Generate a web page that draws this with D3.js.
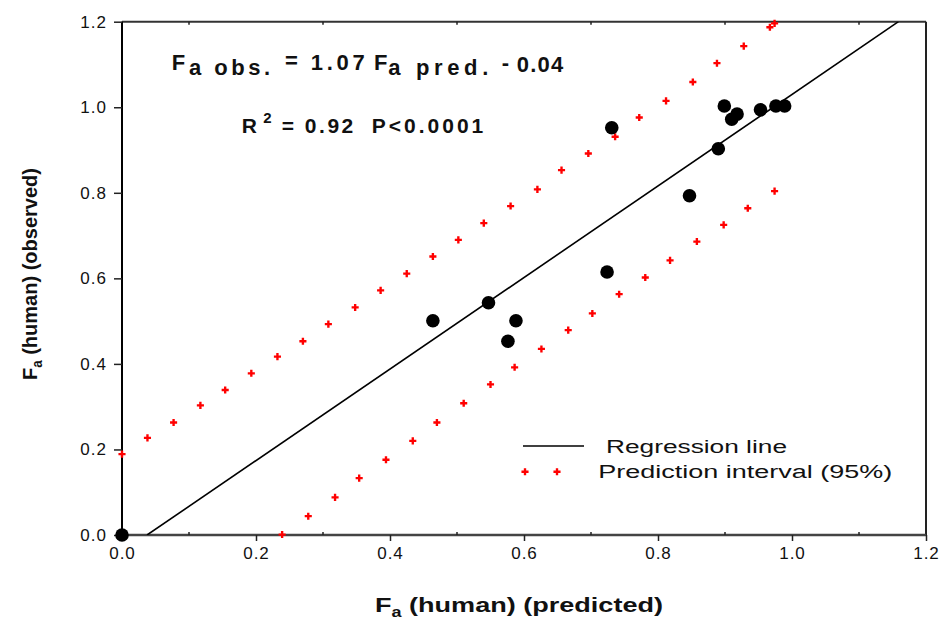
<!DOCTYPE html>
<html>
<head>
<meta charset="utf-8">
<script src="https://cdn.jsdelivr.net/npm/d3@7"></script>
<style>
  body { margin: 0; background: #fff; }
  svg { display: block; font-family: "Liberation Sans", Arial, sans-serif; }
</style>
</head>
<body>
<div id="chart"></div>
<script>
// observed vs predicted points
const predX = [0, 0.464, 0.547, 0.576, 0.588, 0.724, 0.731, 0.847, 0.890, 0.899, 0.910, 0.918, 0.953, 0.976, 0.989];
const obsY  = [0, 0.501, 0.543, 0.453, 0.501, 0.615, 0.952, 0.793, 0.903, 1.003, 0.972, 0.984, 0.994, 1.003, 1.003];

// regression: Fa obs. = 1.07 Fa pred. - 0.04
const slope = 1.07;
const intercept = -0.04;

// 95% prediction interval, upper band markers
const upperX = [0.000, 0.038, 0.077, 0.117, 0.154, 0.193, 0.232, 0.270, 0.308, 0.348, 0.386, 0.425, 0.464, 0.502,
                0.540, 0.580, 0.620, 0.656, 0.696, 0.736, 0.772, 0.812, 0.852, 0.888, 0.928, 0.967, 0.974];
const upperY = [0.189, 0.227, 0.263, 0.303, 0.339, 0.378, 0.417, 0.453, 0.493, 0.532, 0.572, 0.611, 0.651, 0.690,
                0.729, 0.769, 0.808, 0.853, 0.892, 0.931, 0.976, 1.015, 1.059, 1.103, 1.143, 1.187, 1.196];
// lower band markers
const lowerX = [0.239, 0.278, 0.318, 0.354, 0.394, 0.434, 0.470, 0.510, 0.550, 0.586, 0.626, 0.666, 0.702, 0.742,
                0.781, 0.818, 0.858, 0.898, 0.934, 0.974];
const lowerY = [0.001, 0.044, 0.088, 0.133, 0.176, 0.220, 0.263, 0.308, 0.352, 0.392, 0.435, 0.479, 0.518, 0.563,
                0.602, 0.642, 0.686, 0.725, 0.764, 0.804];

const majorTicks = [0, 0.2, 0.4, 0.6, 0.8, 1.0, 1.2];
const minorTicks = [0.1, 0.3, 0.5, 0.7, 0.9, 1.1];
const legendLabels = ["Regression line", "Prediction interval (95%)"];

const width = 943, height = 624;
const margin = {top: 21.7, right: 17, bottom: 89, left: 122};

const svg = d3.select("#chart").append("svg")
    .attr("width", width)
    .attr("height", height);

const x = d3.scaleLinear().domain([0, 1.2]).range([margin.left, width - margin.right]);
const y = d3.scaleLinear().domain([0, 1.2]).range([height - margin.bottom, margin.top]);

svg.append("clipPath").attr("id", "plot")
  .append("rect")
    .attr("x", x(0)).attr("y", y(1.2))
    .attr("width", x(1.2) - x(0)).attr("height", y(0) - y(1.2));

// frame: top + right
svg.append("line")
    .attr("x1", x(0)).attr("x2", x(1.2)).attr("y1", y(1.2)).attr("y2", y(1.2))
    .attr("stroke", "#333").attr("stroke-width", 2);
svg.append("line")
    .attr("x1", x(1.2)).attr("x2", x(1.2)).attr("y1", y(1.2)).attr("y2", y(0))
    .attr("stroke", "#222").attr("stroke-width", 2);
svg.append("g")
  .selectAll("line")
  .data(minorTicks)
  .enter().append("line")
    .attr("x1", d => x(d)).attr("x2", d => x(d))
    .attr("y1", y(1.2)).attr("y2", y(1.2) + 3)
    .attr("stroke", "#222").attr("stroke-width", 1.5);

// bottom axis
const xAxis = svg.append("g")
    .attr("transform", `translate(0,${y(0)})`)
    .call(d3.axisBottom(x).tickValues(majorTicks).tickFormat(d3.format(".1f")).tickSize(6).tickPadding(6))
    .call(g => g.select(".domain").attr("stroke", "#444").attr("stroke-width", 2.5).attr("d", `M${x(0)},0H${x(1.2)}`))
    .call(g => g.selectAll(".tick line").attr("stroke", "#222").attr("stroke-width", 1.5))
    .call(g => g.selectAll(".tick text")
        .attr("font-size", 17).attr("letter-spacing", 1).attr("fill", "#111")
        .attr("font-family", "Liberation Sans, Arial, sans-serif"));
xAxis.selectAll(".minor")
  .data(minorTicks)
  .enter().append("line")
    .attr("class", "minor")
    .attr("x1", d => x(d)).attr("x2", d => x(d))
    .attr("y1", 0).attr("y2", -3)
    .attr("stroke", "#222").attr("stroke-width", 1.5);

// left axis
svg.append("g")
    .attr("transform", `translate(${x(0)},0)`)
    .call(d3.axisLeft(y).tickValues(majorTicks).tickFormat(d3.format(".1f")).tickSize(8).tickPadding(7))
    .call(g => g.select(".domain").attr("stroke", "#000").attr("stroke-width", 2).attr("d", `M0,${y(0)}V${y(1.2)}`))
    .call(g => g.selectAll(".tick line").attr("stroke", "#222").attr("stroke-width", 1.5))
    .call(g => g.selectAll(".tick text")
        .attr("font-size", 17).attr("letter-spacing", 1).attr("fill", "#111")
        .attr("font-family", "Liberation Sans, Arial, sans-serif"));

// regression line
const x0 = -intercept / slope, x1 = (1.2 - intercept) / slope;
svg.append("line")
    .attr("clip-path", "url(#plot)")
    .attr("x1", x(x0)).attr("y1", y(slope * x0 + intercept))
    .attr("x2", x(x1)).attr("y2", y(slope * x1 + intercept))
    .attr("stroke", "#000").attr("stroke-width", 1.6);

// prediction interval markers
const cross = d3.symbol().type(d3.symbolCross).size(28);
function band(xs, ys) {
    svg.append("g")
      .selectAll("path")
      .data(xs.map((d, i) => [d, ys[i]]))
      .enter().append("path")
        .attr("d", cross)
        .attr("transform", d => `translate(${x(d[0])},${y(d[1])})`)
        .attr("fill", "#ff0000");
}
band(upperX, upperY);
band(lowerX, lowerY);

// data points
svg.append("g")
  .selectAll("circle")
  .data(predX.map((d, i) => [d, obsY[i]]))
  .enter().append("circle")
    .attr("cx", d => x(d[0]))
    .attr("cy", d => y(d[1]))
    .attr("r", 6.8)
    .attr("fill", "#000");

// equation text
function piece(txt, px, py, opts) {
    opts = opts || {};
    const t = svg.append("text")
        .attr("x", px).attr("y", py)
        .attr("font-size", opts.size || 22)
        .attr("font-weight", opts.weight || "bold")
        .attr("fill", "#111")
        .text(txt);
    if (opts.len) t.attr("textLength", opts.len).attr("lengthAdjust", opts.adjust || "spacing");
    return t;
}
piece("F", 171.7, 70);
piece("a obs.", 189, 75, {len: 81});
piece("=", 285, 68);
piece("1.07", 310.7, 70, {len: 54});
piece("F", 374, 70);
piece("a pred.", 388.3, 75, {len: 100});
piece("-", 501.7, 70);
piece("0.04", 516.7, 72, {len: 46.6});

piece("R", 241.7, 133, {size: 21});
piece("2", 263.3, 123, {size: 15});
piece("= 0.92", 281.7, 133, {size: 21, len: 71.6});
piece("P<0.0001", 371.7, 133, {size: 21, len: 111.6});

// legend
svg.append("line")
    .attr("x1", 523).attr("x2", 584).attr("y1", 446).attr("y2", 446)
    .attr("stroke", "#000").attr("stroke-width", 1.5);
piece(legendLabels[0], 606, 453, {size: 18, weight: "normal", len: 181, adjust: "spacingAndGlyphs"});
svg.append("g")
  .selectAll("path")
  .data([525, 557])
  .enter().append("path")
    .attr("d", cross)
    .attr("transform", d => `translate(${d},471.7)`)
    .attr("fill", "#ff0000");
piece(legendLabels[1], 598.3, 478.3, {size: 18, weight: "normal", len: 294, adjust: "spacingAndGlyphs"});

// axis titles
const xt = svg.append("text")
    .attr("x", 375).attr("y", 612)
    .attr("font-size", 21).attr("font-weight", "bold").attr("fill", "#111");
xt.append("tspan").text("F");
xt.append("tspan").attr("font-size", 14).attr("dy", 5).text("a");
xt.append("tspan").attr("dy", -5).text(" (human) (predicted)");
xt.attr("textLength", 288).attr("lengthAdjust", "spacingAndGlyphs");

const yt = svg.append("text")
    .attr("transform", "translate(37,380) rotate(-90)")
    .attr("font-size", 21).attr("font-weight", "bold").attr("fill", "#111");
yt.append("tspan").text("F");
yt.append("tspan").attr("font-size", 14).attr("dy", 5).text("a");
yt.append("tspan").attr("dy", -5).text(" (human) (observed)");
yt.attr("textLength", 212).attr("lengthAdjust", "spacingAndGlyphs");
</script>
</body>
</html>
